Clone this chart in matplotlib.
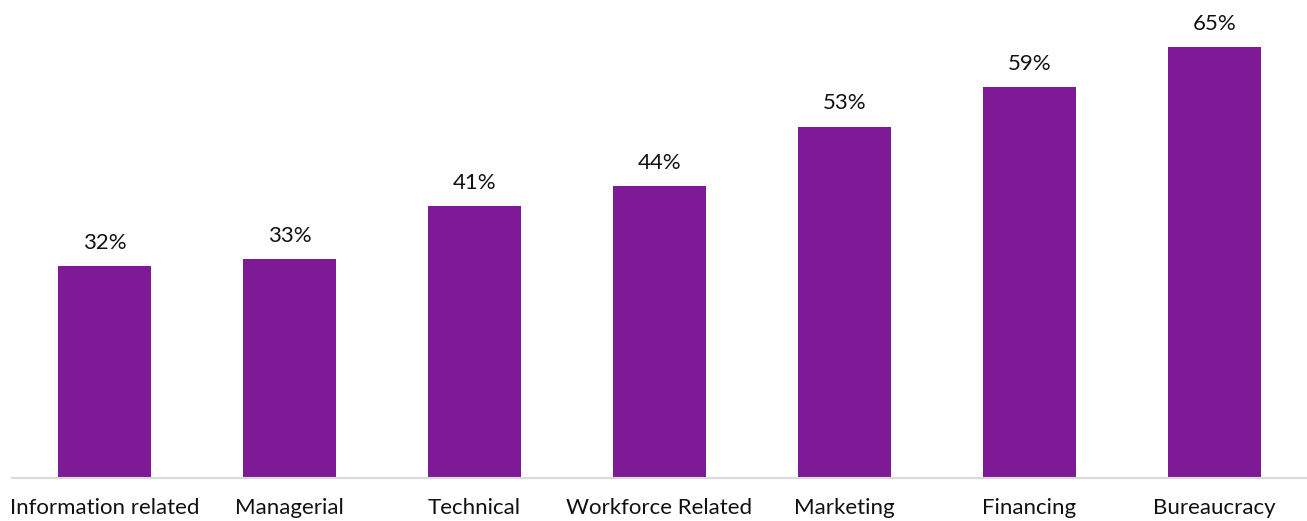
import matplotlib.pyplot as plt

categories = ['Information related', 'Managerial', 'Technical', 'Workforce Related',
              'Marketing', 'Financing', 'Bureaucracy']
shares = [32, 33, 41, 44, 53, 59, 65]

plt.rcParams['font.family'] = ['Lato', 'DejaVu Sans']

fig = plt.figure(figsize=(13.07, 5.21), dpi=100)
ax = fig.add_axes([12 / 1307, 43 / 521, 1 - 12 / 1307, 478 / 521])

x = range(len(categories))
bars = ax.bar(x, shares, width=0.5, color='#7f1a96')

# percentage labels above each bar
for b, v in zip(bars, shares):
    ax.annotate(f'{v}%', (b.get_x() + b.get_width() / 2, v),
                xytext=(0, 9.5), textcoords='offset points',
                ha='center', va='bottom', fontsize=16, color='#111111')

ax.set_xlim(-0.5, len(categories) - 0.5)
ax.set_ylim(0, 72.1)
ax.set_xticks(list(x))
ax.set_xticklabels(categories, fontsize=16, color='#111111')
ax.tick_params(axis='x', length=0, pad=14.5)
ax.set_yticks([])

for side in ['top', 'right', 'left']:
    ax.spines[side].set_visible(False)
ax.spines['bottom'].set_color('#d9d9d9')
ax.spines['bottom'].set_linewidth(1.5)

fig.savefig('out.png', dpi=100)
